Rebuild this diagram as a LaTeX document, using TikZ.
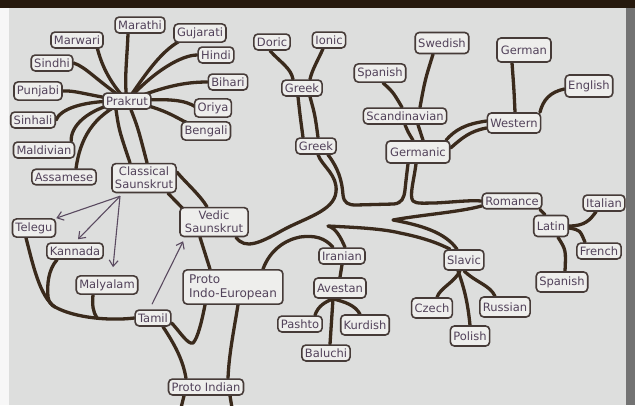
\documentclass[tikz,border=0pt]{standalone}
\usepackage{fontspec}
\setmainfont{DejaVu Sans}
\usetikzlibrary{arrows.meta}
\pgfdeclarelayer{back}
\pgfdeclarelayer{bg}
\pgfsetlayers{back,bg,main}
\definecolor{screen}{HTML}{DDDEDD}
\definecolor{boxfill}{HTML}{EEEEEC}
\definecolor{boxline}{HTML}{463B38}
\definecolor{txt}{HTML}{52425A}
\definecolor{branch}{HTML}{3A2A1C}
\definecolor{arrowc}{HTML}{5A4A60}
\begin{document}
\begin{tikzpicture}[x=1pt,y=-1pt,
  lang/.style={draw=boxline, line width=1.6pt, fill=boxfill, rounded corners=4pt,
    font=\fontsize{11.5}{13}\selectfont, text=txt, inner xsep=3pt, inner ysep=3.5pt},
  br/.style={draw=branch, line width=3.3pt, line cap=round, line join=round},
  ar/.style={draw=arrowc, line width=1.1pt, -{Straight Barb[length=6pt,width=9pt]}}]
\begin{pgfonlayer}{back}
\fill[screen] (0,0) rectangle (635,405);
\end{pgfonlayer}
\useasboundingbox (0,0) rectangle (635,405);
% nodes
\node[lang] (Marwari) at (77,40) {Marwari};
\node[lang] (Marathi) at (140,25) {Marathi};
\node[lang] (Gujarati) at (200,33) {Gujarati};
\node[lang] (Hindi) at (216,55) {Hindi};
\node[lang] (Bihari) at (228,82) {Bihari};
\node[lang] (Oriya) at (213,108) {Oriya};
\node[lang] (Bengali) at (206,131) {Bengali};
\node[lang] (Prakrut) at (127,101) {Prakrut};
\node[lang] (Sindhi) at (52,63) {Sindhi};
\node[lang] (Punjabi) at (38,91) {Punjabi};
\node[lang] (Sinhali) at (33,120) {Sinhali};
\node[lang] (Maldivian) at (44,150) {Maldivian};
\node[lang] (Assamese) at (64,177) {Assamese};
\node[lang, align=center] (Classical) at (144,178) {Classical\\Saunskrut};
\node[lang, align=center, inner xsep=5pt, inner ysep=3.5pt] (Vedic) at (214,222) {Vedic\\Saunskrut};
\node[lang] (Telegu) at (34,228) {Telegu};
\node[lang] (Kannada) at (75,251) {Kannada};
\node[lang] (Malyalam) at (107,285) {Malyalam};
\node[lang] (Tamil) at (153,318) {Tamil};
\node[lang, align=left, inner xsep=6pt, inner ysep=4.5pt, font=\fontsize{12}{14}\selectfont] (ProtoIE) at (233,287) {Proto\\Indo-European};
\node[lang] (ProtoIndian) at (206,387) {Proto Indian};
\node[lang] (Doric) at (272,42) {Doric};
\node[lang] (Ionic) at (329,40) {Ionic};
\node[lang] (Greek1) at (302,88) {Greek};
\node[lang] (Greek2) at (316,146) {Greek};
\node[lang] (Spanish1) at (380,73) {Spanish};
\node[lang, minimum height=21pt] (Swedish) at (442,43) {Swedish};
\node[lang] (Scand) at (405,116) {Scandinavian};
\node[lang, minimum height=22pt, inner xsep=4pt] (Germanic) at (418,152) {Germanic};
\node[lang, minimum height=24pt, inner xsep=4pt] (German) at (524,50) {German};
\node[lang, minimum height=22pt] (English) at (589,86) {English};
\node[lang, minimum height=20pt] (Western) at (514,123) {Western};
\node[lang] (Romance) at (512,201) {Romance};
\node[lang] (Italian) at (604,203) {Italian};
\node[lang, minimum height=21pt] (Latin) at (551,226) {Latin};
\node[lang] (French) at (599,251) {French};
\node[lang, minimum height=20pt] (Spanish2) at (562,282) {Spanish};
\node[lang, minimum height=20pt] (Slavic) at (464,260) {Slavic};
\node[lang] (Iranian) at (342,256) {Iranian};
\node[lang, minimum height=20pt] (Avestan) at (340,288) {Avestan};
\node[lang] (Pashto) at (300,324) {Pashto};
\node[lang, minimum height=20pt] (Kurdish) at (365,325) {Kurdish};
\node[lang] (Baluchi) at (326,353) {Baluchi};
\node[lang, minimum height=20pt] (Czech) at (432,308) {Czech};
\node[lang, minimum height=20pt] (Russian) at (505,307) {Russian};
\node[lang, minimum height=20pt] (Polish) at (470,336) {Polish};
\coordinate (piL) at (181,408);
\coordinate (piR) at (232,408);
\begin{pgfonlayer}{bg}
% Prakrut spokes
\draw[br] ([xshift=20pt,yshift=2pt]Marwari.south) .. controls (102,68) and (112,85) .. (Prakrut.center);
\draw[br] ([xshift=-12pt]Marathi.south) .. controls (127,60) and (124,80) .. (Prakrut.center);
\draw[br] ([xshift=-20pt,yshift=2pt]Gujarati.south) .. controls (160,52) and (145,75) .. (Prakrut.center);
\draw[br] (Hindi.west) .. controls (182,55) and (155,70) .. (Prakrut.center);
\draw[br] (Bihari.west) .. controls (185,82) and (165,86) .. (Prakrut.center);
\draw[br] ([xshift=2pt,yshift=1pt]Oriya.west) .. controls (185,100) and (170,98) .. (Prakrut.center);
\draw[br] ([xshift=-18pt,yshift=-2pt]Bengali.north) .. controls (176,118) and (165,108) .. (Prakrut.center);
\draw[br] (Sindhi.east) .. controls (86,67) and (96,80) .. (Prakrut.center);
\draw[br] (Punjabi.east) .. controls (75,90) and (90,96) .. (Prakrut.center);
\draw[br] (Sinhali.east) .. controls (60,110) and (80,100) .. (Prakrut.center);
\draw[br] ([xshift=-4pt]Maldivian.north east) .. controls (70,128) and (85,108) .. (Prakrut.center);
\draw[br] ([xshift=12pt]Assamese.north) .. controls (80,140) and (92,115) .. (Prakrut.center);
% Prakrut - Classical (hollow)
\draw[br] ([xshift=-11pt]Prakrut.south) .. controls (119,130) .. ([xshift=-14pt]Classical.north);
\draw[br] ([xshift=4pt]Prakrut.south) .. controls (138,128) .. ([xshift=3pt]Classical.north);
% Classical - Vedic
\draw[br] ([yshift=6pt]Classical.east) .. controls (187,184) and (200,195) .. ([xshift=-7pt]Vedic.north);
\draw[br] ([xshift=24pt]Classical.south) .. controls (176,202) .. ([xshift=-30pt,yshift=-3pt]Vedic.north);
% Vedic - Proto IE
\draw[br] ([xshift=-14pt]Vedic.south) .. controls (204,250) .. ([xshift=-23pt]ProtoIE.north);
% main trunk
\draw[br] ([xshift=22pt]Vedic.south) .. controls (245,250) and (260,243) .. (283,230)
  .. controls (305,218) and (334,211) .. (336,192) .. controls (338,175) and (322,166) .. ([xshift=2pt]Greek2.south);
\draw[br] ([xshift=12pt]Greek2.south) .. controls (338,168) and (342,180) .. (343,195)
  .. controls (344,203) and (348,205) .. (356,205) -- (394,204)
  .. controls (402,203) and (404,198) .. (405,190) .. controls (406,180) and (407,172) .. ([xshift=-10pt]Germanic.south);
\draw[br] ([xshift=-2pt]Germanic.south) .. controls (414,180) and (409,196) .. (413,201)
  .. controls (416,204) and (425,203) .. (435,203) .. controls (455,202) and (470,200) .. (Romance.west);
\draw[br] ([yshift=-5pt]Romance.west) .. controls (460,212) and (420,215) .. (393,220)
  .. controls (420,225) and (445,232) .. ([xshift=-7pt]Slavic.north);
\draw[br] ([xshift=3pt]Iranian.north) .. controls (341,238) and (336,228) .. (328,226)
  .. controls (345,227) and (380,228) .. (400,233) .. controls (425,238) and (440,244) .. ([xshift=-14pt]Slavic.north);
\draw[br] ([xshift=-9pt]Iranian.north) .. controls (325,238) and (315,235) .. (300,237)
  .. controls (285,240) and (270,250) .. ([xshift=30pt]ProtoIE.north);
% Tamil / Proto Indian trunk
\draw[br] ([yshift=-5pt]Tamil.east) .. controls (180,332) and (188,345) .. (193,343)
  .. controls (198,338) and (202,320) .. ([xshift=-28pt]ProtoIE.south);
\draw[br] ([xshift=10pt]Tamil.south) .. controls (175,345) and (183,360) .. ([xshift=-20pt]ProtoIndian.north);
\draw[br] ([xshift=5pt]ProtoIE.south) .. controls (233,335) and (229,355) .. ([xshift=22pt]ProtoIndian.north);
\draw[br] ([xshift=-22pt]ProtoIndian.south) -- (piL);
\draw[br] ([xshift=24pt]ProtoIndian.south) -- (piR);
% Dravidian
\draw[br] ([xshift=-8pt]Telegu.south) .. controls (33,265) and (40,297) .. (55,307)
  .. controls (75,318) and (110,321) .. (Tamil.west);
\draw[br] ([xshift=-18pt]Kannada.south) .. controls (48,270) and (47,285) .. (48,297)
  .. controls (49,302) and (51,305) .. (55,307);
\draw[br] ([xshift=-14pt]Malyalam.south) .. controls (92,305) and (93,312) .. (97,318);
% Greek
\draw[br] ([xshift=-2pt]Doric.south) .. controls (280,62) and (291,68) .. ([xshift=-9pt]Greek1.north);
\draw[br] ([xshift=-6pt]Ionic.south) .. controls (318,60) and (312,70) .. ([xshift=8pt]Greek1.north);
\draw[br] ([xshift=-4pt]Greek1.south) .. controls (300,115) .. ([xshift=-13pt]Greek2.north);
\draw[br] ([xshift=8pt]Greek1.south) .. controls (315,115) .. ([xshift=2pt]Greek2.north);
% Germanic
\draw[br] ([xshift=3pt]Spanish1.south) .. controls (393,92) .. ([xshift=-3pt]Scand.north);
\draw[br] ([xshift=-9pt]Swedish.south) .. controls (425,80) .. ([xshift=15pt]Scand.north);
\draw[br] (Scand.south) .. controls (408,132) .. ([xshift=-5pt]Germanic.north);
\draw[br] ([xshift=13pt]Scand.south) .. controls (421,132) .. ([xshift=5pt]Germanic.north);
\draw[br] ([xshift=28pt]Germanic.north) .. controls (455,130) and (465,124) .. ([yshift=2pt]Western.west);
\draw[br] ([yshift=4pt]Germanic.east) .. controls (462,138) and (470,131) .. ([yshift=-5pt]Western.west);
\draw[br] ([xshift=-12pt]German.south) .. controls (514,90) .. ([xshift=1pt]Western.north);
\draw[br] ([yshift=-3pt]English.west) .. controls (550,92) and (543,100) .. ([xshift=26pt]Western.north);
% Romance
\draw[br] ([xshift=28pt]Romance.south) -- ([xshift=-6pt]Latin.north);
\draw[br] (Latin.east) .. controls (585,226) and (590,220) .. ([xshift=-8pt]Italian.south);
\draw[br] ([yshift=-2pt]Latin.east) .. controls (580,230) .. ([xshift=-14pt]French.north);
\draw[br] ([xshift=7pt]Latin.south) .. controls (566,250) .. ([xshift=3pt]Spanish2.north);
% Slavic
\draw[br] ([xshift=-4pt]Slavic.south) .. controls (455,282) and (440,288) .. ([xshift=5pt]Czech.north);
\draw[br] ([xshift=-6pt]Slavic.south) .. controls (465,290) and (468,305) .. (Polish.north);
\draw[br] (Slavic.south) .. controls (475,282) and (490,285) .. ([xshift=-10pt]Russian.north);
% Iranian
\draw[br] (Iranian.south) -- (Avestan.north);
\draw[br] ([xshift=-7pt]Avestan.south) .. controls (325,302) and (318,306) .. ([xshift=15pt]Pashto.north);
\draw[br] ([xshift=-7pt]Avestan.south) .. controls (345,302) and (355,305) .. ([xshift=-5pt]Kurdish.north);
\draw[br] ([xshift=-7pt]Avestan.south) -- ([xshift=4pt]Baluchi.north);
\end{pgfonlayer}
% arrows
\draw[ar] ([xshift=-24pt,yshift=-3pt]Classical.south) -- (Telegu.north east);
\draw[ar] ([xshift=-24pt,yshift=-3pt]Classical.south) -- ([xshift=3pt,yshift=3pt]Kannada.north);
\draw[ar] ([xshift=-24pt,yshift=-3pt]Classical.south) -- ([xshift=6pt,yshift=8pt]Malyalam.north);
\draw[ar] ([xshift=-1pt,yshift=5pt]Tamil.north) -- ([xshift=4pt,yshift=-4pt]Vedic.south west);
% photo borders
\fill[white!94!gray] (0,0) rectangle (9,405);
\fill[black!55] (626,0) rectangle (635,405);
\fill[black!80!brown] (0,0) rectangle (635,8);
\end{tikzpicture}
\end{document}
